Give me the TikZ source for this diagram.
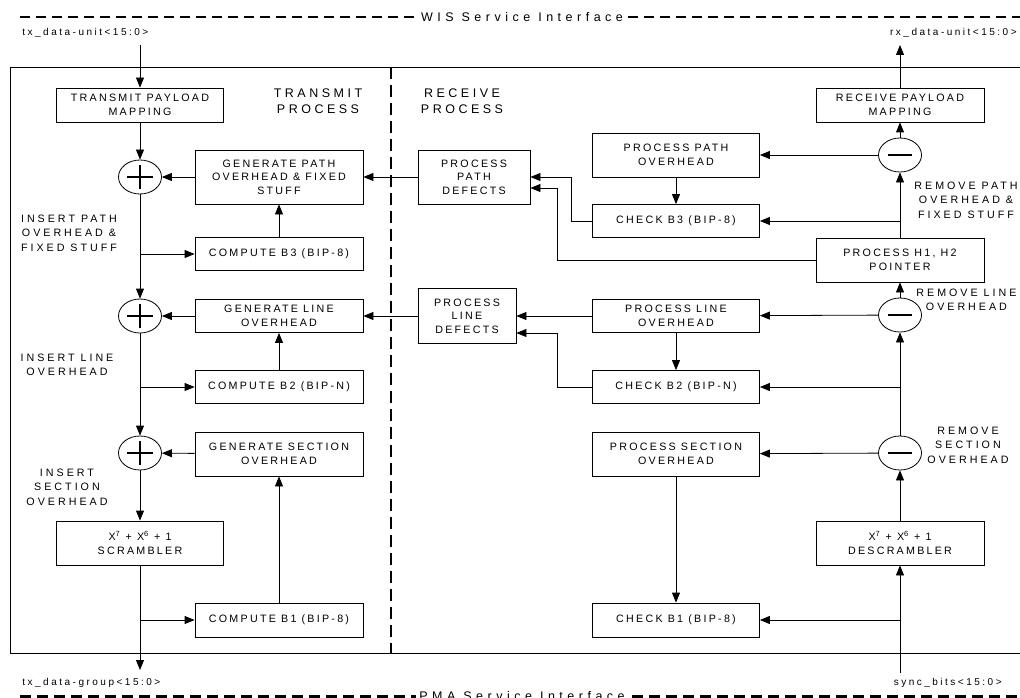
\documentclass[tikz,border=0pt]{standalone}
\usepackage{fontspec}
\setmainfont{Liberation Sans}
\newfontfamily\boxfont[LetterSpace=21]{Liberation Sans}
\newfontfamily\notefont[LetterSpace=28]{Liberation Sans}
\newfontfamily\sigfont[LetterSpace=25]{Liberation Sans}
\newfontfamily\wideFont[LetterSpace=36]{Liberation Sans}
\usetikzlibrary{arrows.meta,shapes.geometric}

\begin{document}
\begin{tikzpicture}[
		x=1pt,y=-1pt,
		line width=0.8pt,
		every node/.style={font=\boxfont\fontsize{10.7}{13.5}\selectfont,align=center},
		block/.style={draw,inner sep=2pt,minimum width=168pt,minimum height=33pt},
		tall/.style={minimum height=44pt},
		taller/.style={minimum height=54pt},
		sum/.style={draw,ellipse,minimum width=43pt,minimum height=34pt,inner sep=0pt},
		plus/.style={sum,path picture={
			\draw[line width=1.1pt] ([xshift=-13pt]path picture bounding box.center) -- ([xshift=13pt]path picture bounding box.center)
				([yshift=-12pt]path picture bounding box.center) -- ([yshift=12pt]path picture bounding box.center);}},
		minus/.style={sum,path picture={
			\draw[line width=1.3pt] ([xshift=-12pt]path picture bounding box.center) -- ([xshift=12pt]path picture bounding box.center);}},
		flow/.style={-{Triangle[length=10pt,width=8pt]}},
		note/.style={font=\notefont\fontsize{10.7}{14.5}\selectfont,inner sep=0pt},
		heading/.style={font=\notefont\fontsize{12.5}{16}\selectfont,inner sep=0pt},
		signal/.style={font=\sigfont\fontsize{10}{12}\selectfont,inner sep=0pt},
		iface/.style={line width=2pt,dash pattern=on 10pt off 6pt},
	]
	\useasboundingbox (0,0) rectangle (1020,698);

	% service interfaces
	\draw[iface] (20,17) coordinate (wisl) -- (1024,17) coordinate (wisr)
		node[midway,fill=white,inner sep=3pt,font=\wideFont\fontsize{12.5}{15}\selectfont] (wis) {WIS Service Interface};
	\draw[iface,line width=3pt,dash pattern=on 11pt off 6pt] (20,696) coordinate (pmal) -- (1024,696) coordinate (pmar)
		node[midway,fill=white,inner sep=3pt,font=\wideFont\fontsize{12.5}{15}\selectfont] (pma) {PMA Service Interface};
	\node[signal,anchor=west] (txunit) at (22,33) {tx\_data-unit<15:0>};
	\node[signal,anchor=east] (rxunit) at (1017,33) {rx\_data-unit<15:0>};
	\node[signal,anchor=west] (txgroup) at (22,683) {tx\_data-group<15:0>};
	\node[signal,anchor=east] (syncbits) at (1002,683) {sync\_bits<15:0>};

	% sublayer frame
	\draw (1024,67) -- (10,67) -- (10,653) -- (1024,653);
	\draw[line width=1.6pt,dash pattern=on 12pt off 6pt] (391,67) -- (391,653);
	\node[heading] (txhead) at (318,101) {TRANSMIT\\PROCESS};
	\node[heading] (rxhead) at (462,101) {RECEIVE\\PROCESS};

	% transmit process
	\coordinate (txin) at (140,45);
	\coordinate (txout) at (140,670);
	\node[block,minimum width=167pt,minimum height=34pt] (tpm) at (140,105) {TRANSMIT PAYLOAD\\MAPPING};
	\node[plus] (add1) at (140,177) {};
	\node[block,taller] (gpo) at (279,177) {GENERATE PATH\\OVERHEAD \& FIXED\\STUFF};
	\node[block] (cb3) at (279,254) {COMPUTE B3 (BIP-8)};
	\node[plus] (add2) at (140,316) {};
	\node[block] (glo) at (279,316) {GENERATE LINE\\OVERHEAD};
	\node[block] (cb2) at (279,387) {COMPUTE B2 (BIP-N)};
	\node[plus] (add3) at (140,453) {};
	\node[block,tall] (gso) at (279,454) {GENERATE SECTION\\OVERHEAD};
	\node[block,tall,minimum width=167pt] (scr) at (140,543) {X\textsuperscript{7} + X\textsuperscript{6} + 1\\SCRAMBLER};
	\node[block,minimum height=34pt] (cb1) at (279,620) {COMPUTE B1 (BIP-8)};
	\node[note] (inspath) at (69,233) {INSERT PATH\\OVERHEAD \&\\FIXED STUFF};
	\node[note] (insline) at (67,365) {INSERT LINE\\OVERHEAD};
	\node[note] (inssect) at (67,487) {INSERT\\SECTION\\OVERHEAD};

	% receive process
	\coordinate (rxout) at (900,45);
	\coordinate (syncin) at (900,673);
	\node[block,taller,minimum width=112pt] (ppd) at (474,177) {PROCESS\\PATH\\DEFECTS};
	\node[block,minimum width=98pt,minimum height=55pt] (pld) at (467,316) {PROCESS\\LINE\\DEFECTS};
	\node[block,minimum width=167pt,tall] (ppo) at (676,155) {PROCESS PATH\\OVERHEAD};
	\node[block,minimum width=167pt] (chb3) at (676,221) {CHECK B3 (BIP-8)};
	\node[block,minimum width=167pt] (plo) at (676,316) {PROCESS LINE\\OVERHEAD};
	\node[block,minimum width=167pt] (chb2) at (676,387) {CHECK B2 (BIP-N)};
	\node[block,minimum width=167pt,tall] (pso) at (676,454) {PROCESS SECTION\\OVERHEAD};
	\node[block,minimum width=167pt,minimum height=34pt] (chb1) at (676,620) {CHECK B1 (BIP-8)};
	\node[block,minimum height=34pt] (rpm) at (900,105) {RECEIVE PAYLOAD\\MAPPING};
	\node[minus] (sub1) at (900,155) {};
	\node[block,tall] (h12) at (900,260) {PROCESS H1, H2\\POINTER};
	\node[minus] (sub2) at (900,315) {};
	\node[minus] (sub3) at (900,453) {};
	\node[block,tall] (dscr) at (900,543) {X\textsuperscript{7} + X\textsuperscript{6} + 1\\DESCRAMBLER};
	\node[note,anchor=west] (rmpath) at (914,200) {REMOVE PATH\\OVERHEAD \&\\FIXED STUFF};
	\node[note,anchor=west] (rmline) at (916,300) {REMOVE LINE\\OVERHEAD};
	\node[note] (rmsect) at (968,445) {REMOVE\\SECTION\\OVERHEAD};

	% transmit connectors
	\draw[flow] (txin) -- (tpm);
	\draw[flow] (tpm) -- (add1);
	\draw[flow] (gpo) -- (add1);
	\draw[flow] (add1) -- (add2);
	\draw[flow] (add1 |- cb3) -- (cb3);
	\draw[flow] (cb3) -- (gpo);
	\draw[flow] (glo) -- (add2);
	\draw[flow] (add2) -- (add3);
	\draw[flow] (add2 |- cb2) -- (cb2);
	\draw[flow] (cb2) -- (glo);
	\draw[flow] (gso) -- (add3);
	\draw[flow] (add3) -- (scr);
	\draw[flow] (scr) -- (txout);
	\draw[flow] (scr |- cb1) -- (cb1);
	\draw[flow] (cb1) -- (gso);
	\draw[flow] (ppd) -- (gpo);
	\draw[flow] (pld) -- (glo);

	% receive connectors
	\draw[flow] (rpm) -- (rxout);
	\draw[flow] (sub1) -- (rpm);
	\draw[flow] (sub1) -- (ppo);
	\draw[flow] (ppo) -- (chb3);
	\draw[flow] (h12) -- (sub1);
	\draw[flow] (h12 |- chb3) -- (chb3);
	\draw[flow] (chb3.west) -- ++(-21,0) |- (ppd.east);
	\draw[flow] (h12.west) -- ++(-258,0) |- ([yshift=-11pt]ppd.east);
	\draw[flow] (sub2) -- (h12);
	\draw[flow] (sub2) -- (plo);
	\draw[flow] (plo) -- (pld);
	\draw[flow] (plo) -- (chb2);
	\draw[flow] (chb2.west) -- ++(-35,0) |- ([yshift=-17pt]pld.east);
	\draw[flow] (sub3) -- (sub2);
	\draw[flow] (sub3 |- chb2) -- (chb2);
	\draw[flow] (sub3) -- (pso);
	\draw[flow] (pso) -- (chb1);
	\draw[flow] (dscr) -- (sub3);
	\draw[flow] (syncin) -- (dscr);
	\draw[flow] (syncin |- chb1) -- (chb1);
\end{tikzpicture}
\end{document}
